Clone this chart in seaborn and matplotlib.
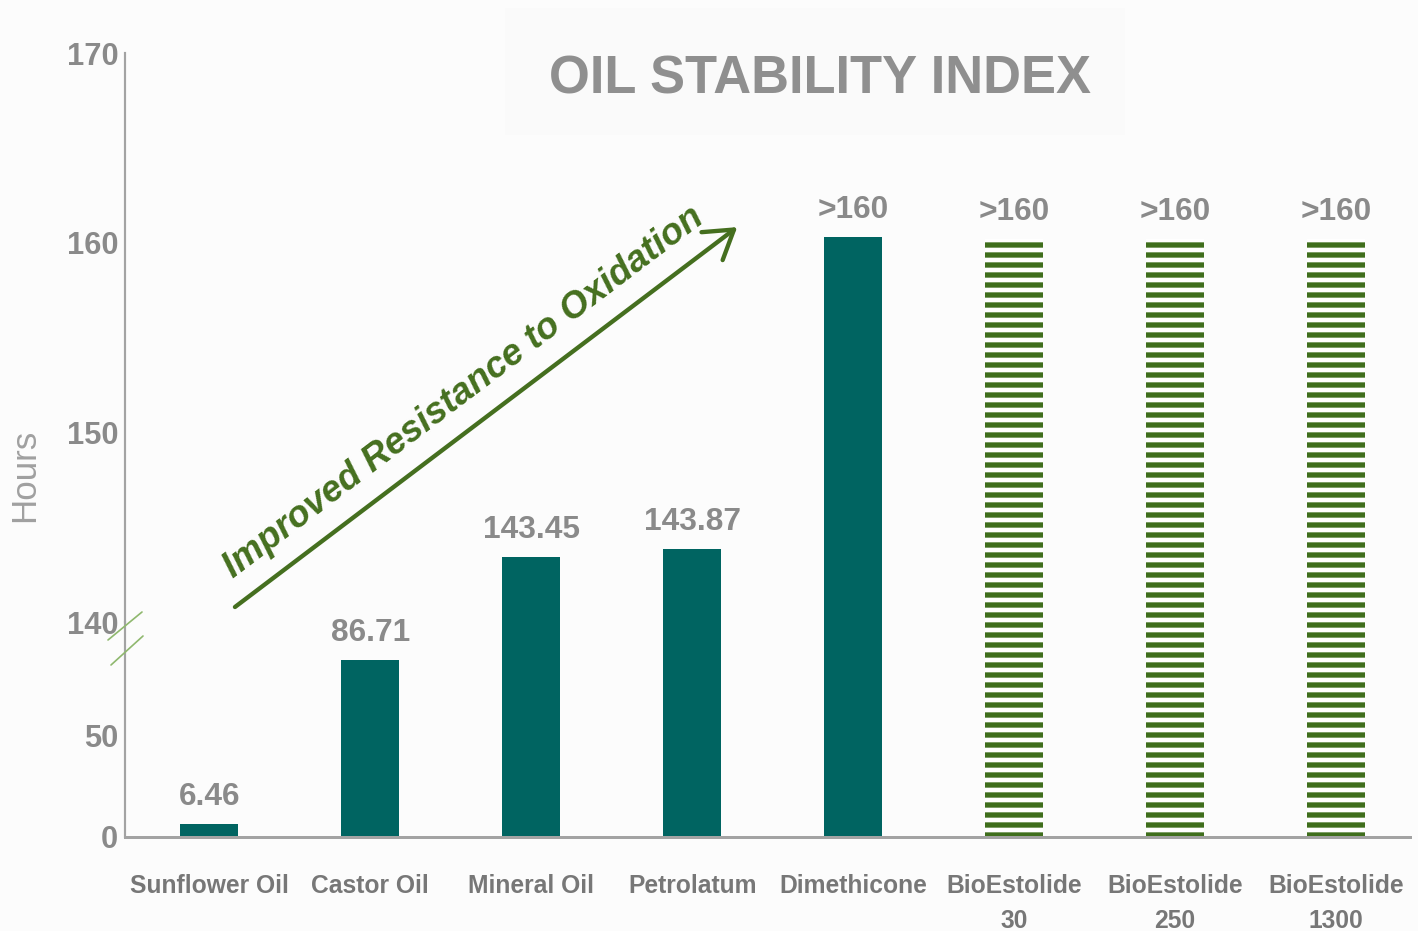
import matplotlib
matplotlib.use("Agg")
import matplotlib.pyplot as plt
import seaborn as sns
import pandas as pd
from matplotlib.patches import Rectangle
from matplotlib.lines import Line2D

# ---------------- data ----------------
categories = ["Sunflower Oil", "Castor Oil", "Mineral Oil", "Petrolatum", "Dimethicone",
              "BioEstolide\n30", "BioEstolide\n250", "BioEstolide\n1300"]
hours = [6.46, 86.71, 143.45, 143.87, 160.3, 160.2, 160.2, 160.2]
value_labels = ["6.46", "86.71", "143.45", "143.87", ">160", ">160", ">160", ">160"]
hatched = [False, False, False, False, False, True, True, True]
upper_ticks = [140, 150, 160, 170]
lower_ticks = [0, 50]

# ---------------- style ----------------
DPI = 120
W, H = 1418, 931
sns.set_style("white")
plt.rcParams["font.family"] = ["Liberation Sans", "DejaVu Sans"]
plt.rcParams["hatch.linewidth"] = 3.2
plt.rcParams["hatch.color"] = "#3f6e1c"

TEAL = "#006461"
GREEN = "#3f6e1c"
ARROW_GREEN = "#456f1f"
GRAY_TXT = "#8a8a8a"
XLAB = "#777777"
SPINE = "#a3a3a3"
BG = "#fcfcfc"

df = pd.DataFrame({"cat": categories, "hours": hours})

fig = plt.figure(figsize=(W / DPI, H / DPI), dpi=DPI, facecolor=BG)

def fx(px):
    return px / W

def fy(py):
    return 1 - py / H

left, right = fx(125), fx(1410)
ax_up = fig.add_axes([left, fy(622), right - left, fy(53) - fy(622)])
ax_lo = fig.add_axes([left, fy(837), right - left, fy(622) - fy(837)])

# faint title background panel
fig.patches.append(Rectangle((fx(505), fy(135)), fx(1125) - fx(505), fy(8) - fy(135),
                             transform=fig.transFigure, facecolor="#fafafa",
                             edgecolor="none", zorder=-5))

XLIM = (-0.523, 7.459)
for ax in (ax_up, ax_lo):
    ax.set_facecolor("none")
    sns.barplot(data=df, x="cat", y="hours", ax=ax, color=TEAL, saturation=1,
                width=0.36, order=categories)
    for p, h in zip(ax.patches, hatched):
        p.set_linewidth(0)
        if h:
            p.set_facecolor("white")
            p.set_edgecolor(GREEN)
            p.set_hatch("--")
    ax.set_xlim(*XLIM)
    ax.set_xlabel("")
    ax.set_ylabel("")
    for s in ("top", "right"):
        ax.spines[s].set_visible(False)
    ax.spines["left"].set_color(SPINE)
    ax.spines["left"].set_linewidth(1.3)
    ax.tick_params(axis="y", length=0, pad=4, labelsize=18.5, labelcolor=GRAY_TXT)

ax_up.set_ylim(140, 170)
ax_up.set_yticks(upper_ticks)
ax_up.set_yticklabels([str(t) for t in upper_ticks], fontweight="bold")
ax_up.spines["bottom"].set_visible(False)
ax_up.set_xticks([])

ax_lo.set_ylim(0, 105.4)
ax_lo.set_yticks(lower_ticks)
ax_lo.set_yticklabels([str(t) for t in lower_ticks], fontweight="bold")
ax_lo.spines["bottom"].set_color(SPINE)
ax_lo.spines["bottom"].set_linewidth(1.8)
ax_lo.tick_params(axis="x", length=0, pad=22, labelsize=14.8, labelcolor=XLAB)
for t in ax_lo.get_xticklabels():
    t.set_fontweight("bold")
    t.set_linespacing(1.6)

# value labels
for i, (v, lab) in enumerate(zip(hours, value_labels)):
    ax = ax_up if v >= 140 else ax_lo
    ax.annotate(lab, xy=(i, v), xytext=(0, 7), textcoords="offset points",
                ha="center", va="bottom", fontsize=19, fontweight="bold",
                color=GRAY_TXT)

# arrow and its caption
ax_up.annotate("", xy=(3.28, 160.82), xytext=(0.16, 140.79),
               arrowprops=dict(arrowstyle="->,head_length=0.55,head_width=0.35",
                               lw=2.6, color=ARROW_GREEN, mutation_scale=30,
                               shrinkA=0, shrinkB=0),
               annotation_clip=False)
ax_up.text(1.58, 152.1, "Improved Resistance to Oxidation", rotation=37.1,
           rotation_mode="anchor", ha="center", va="center", fontsize=22,
           fontweight="bold", fontstyle="italic", color=ARROW_GREEN)

# axis break marks
for (x0, y0, x1, y1) in [(108, 640, 142, 612), (111, 665, 143, 636)]:
    fig.lines.append(Line2D([fx(x0), fx(x1)], [fy(y0), fy(y1)], transform=fig.transFigure,
                            color="#8fb86e", lw=1.0))

# title and y label
fig.text(fx(820), fy(80), "OIL STABILITY INDEX", ha="center", va="center",
         fontsize=31.5, fontweight="bold", color="#8f8f8f")
fig.text(fx(25), fy(475), "Hours", ha="center", va="center", rotation=90,
         fontsize=21, color="#a0a0a0")

fig.savefig("out.png", dpi=DPI, facecolor=BG)
